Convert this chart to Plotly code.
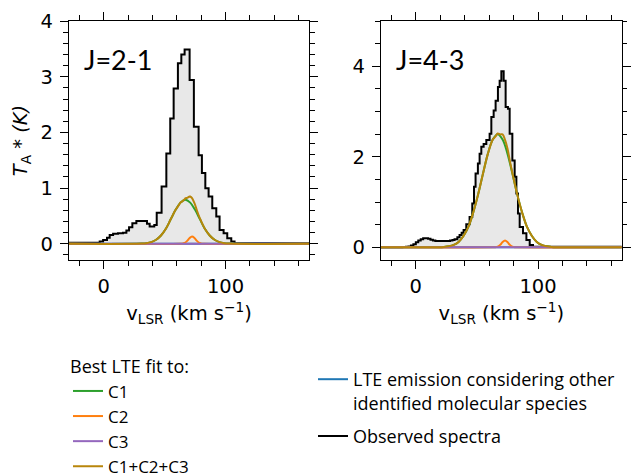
import numpy as np
import plotly.graph_objects as go

# ---------------- data ----------------
# Observed spectra: step starts (km/s) and antenna temperature (K)
obs21_v = [-29, -3.3, -0.5, 2.7, 4.9, 7.7, 11.7, 15.8, 18.6, 20.8, 23.5, 26.8, 35.5, 37.7,
           41.5, 43.5, 47.5, 51.4, 54.6, 57.4, 60.9, 63.7, 66.4, 70.5, 74.0, 77.9, 80.6,
           83.4, 86.1, 89.1, 92.4, 95.1, 98.4, 101.4, 104.7, 107.4, 169]
obs21_t = [0.02, 0.04, 0.07, 0.11, 0.16, 0.18, 0.19, 0.20, 0.24, 0.30, 0.37, 0.41, 0.36, 0.31,
           0.34, 0.56, 1.03, 1.62, 2.25, 2.79, 3.24, 3.40, 3.49, 2.94, 2.10, 1.59, 1.27,
           1.00, 0.85, 0.64, 0.49, 0.25, 0.19, 0.10, 0.04, 0.01, 0.01]

obs43_v = [-29, -11, -8, -6, -4, -2, 0, 2, 4, 6, 8, 10, 12, 14, 16, 20, 24, 28, 30,
           31.7, 34, 35.8, 37.5, 39.1, 41.3, 44, 46.2, 47.6, 48.9, 50.8, 52.2, 53.6, 55.5,
           57.7, 60.4, 61.8, 63.7, 65.3, 67.2, 68.6, 70, 71.9, 73.5, 75.4, 76.8, 79, 80.9,
           82.3, 83.6, 85, 87.7, 90.5, 93.2, 95.9, 169]
obs43_t = [0.0, 0.005, 0.01, 0.02, 0.04, 0.07, 0.11, 0.15, 0.18, 0.20, 0.20, 0.19, 0.17, 0.15,
           0.14, 0.14, 0.14, 0.15, 0.16,
           0.18, 0.22, 0.27, 0.32, 0.38, 0.51, 0.67, 0.97, 1.34, 1.63, 1.85, 2.07, 2.22, 2.28,
           2.37, 2.51, 2.88, 3.02, 3.24, 3.54, 3.68, 3.89, 3.68, 3.10, 3.06, 2.51, 1.92, 1.56,
           1.19, 0.75, 0.45, 0.31, 0.16, 0.05, 0.01, 0.0]

# Best LTE fit components, J=2-1
c1_21_v = [-29, 27, 31, 35, 39, 43, 47, 51, 55, 59, 63, 67, 71, 75, 79, 83, 87, 91, 95, 99, 103, 107, 169]
c1_21_t = [0.0, 0.001, 0.004, 0.011, 0.031, 0.073, 0.15, 0.27, 0.44, 0.61, 0.74, 0.79, 0.74,
           0.61, 0.44, 0.27, 0.15, 0.073, 0.031, 0.011, 0.004, 0.001, 0.0]
c2_21_v = [-29, 62.5, 64.5, 66.5, 68.5, 70.5, 72.5, 74.5, 76.5, 78.5, 80.5, 82.5, 169]
c2_21_t = [0.0, 0.0, 0.004, 0.018, 0.053, 0.104, 0.13, 0.104, 0.053, 0.018, 0.004, 0.0, 0.0]
c3_21_v = [-29, 169]
c3_21_t = [0.0, 0.0]

# Best LTE fit components, J=4-3
c1_43_v = [-29, 19, 23, 27, 31, 35, 39, 43, 47, 51, 55, 59, 63, 67, 71, 75, 79, 83, 87, 91, 95,
           99, 103, 107, 111, 115, 169]
c1_43_t = [0.0, 0.003, 0.008, 0.022, 0.054, 0.12, 0.25, 0.45, 0.77, 1.17, 1.63, 2.07, 2.38,
           2.50, 2.38, 2.07, 1.63, 1.17, 0.77, 0.45, 0.25, 0.12, 0.054, 0.022, 0.008, 0.003, 0.0]
c2_43_v = [-29, 63, 65, 67, 69, 71, 73, 75, 77, 79, 81, 83, 169]
c2_43_t = [0.0, 0.0, 0.003, 0.015, 0.054, 0.116, 0.15, 0.116, 0.054, 0.015, 0.003, 0.0, 0.0]
c3_43_v = [-29, 169]
c3_43_t = [0.0, 0.0]

# LTE emission from other identified species (flat at zero)
oth_v = [-29, 169]
oth_t = [0.0, 0.0]

panel_labels = ["J=2-1", "J=4-3"]
x_ticks = [0, 100]
y_ticks = [[0, 1, 2, 3, 4], [0, 2, 4]]

# ---------------- styles ----------------
C_GREEN = "#2ca02c"
C_ORANGE = "#ff7f0e"
C_PURPLE = "#9467bd"
C_GOLD = "#b8860b"
C_BLUE = "#1f77b4"
LEG_FONT = "Open Sans"
LAB_FONT = "Lato"
AX_FONT = "DejaVu Sans"
LEG_SIZE = 18
LEG_ITEM_SIZE = 17
AX_SIZE = 19.5

W, H = 633, 473


def total(*comps):
    grid = np.unique(np.concatenate([np.asarray(v, float) for v, _ in comps]))
    tot = np.zeros_like(grid)
    for v, t in comps:
        tot += np.interp(grid, v, t)
    return grid, tot


fig = go.Figure()

panels = [
    (obs21_v, obs21_t, (c1_21_v, c1_21_t), (c2_21_v, c2_21_t), (c3_21_v, c3_21_t), "x", "y"),
    (obs43_v, obs43_t, (c1_43_v, c1_43_t), (c2_43_v, c2_43_t), (c3_43_v, c3_43_t), "x2", "y2"),
]

for i, (ov, ot, c1, c2, c3, xa, ya) in enumerate(panels):
    first = i == 0
    # grey filled area under the observed spectrum
    fig.add_trace(go.Scatter(x=ov, y=ot, mode="lines", line=dict(width=0, shape="hv", color="rgba(0,0,0,0)"),
                             fill="tozeroy", fillcolor="#e8e8e8", showlegend=False, hoverinfo="skip",
                             xaxis=xa, yaxis=ya))
    fig.add_trace(go.Scatter(x=ov, y=ot, mode="lines", line=dict(color="black", width=2, shape="hv"),
                             name="Observed spectra", legendgroup="obs",
                             legend="legend2", showlegend=first, xaxis=xa, yaxis=ya, legendrank=2))
    fig.add_trace(go.Scatter(x=oth_v, y=oth_t, mode="lines", line=dict(color=C_BLUE, width=2),
                             name="LTE emission considering other<br>identified molecular species",
                             legendgroup="other",
                             legend="legend2", showlegend=first, xaxis=xa, yaxis=ya, legendrank=1))
    fig.add_trace(go.Scatter(x=c1[0], y=c1[1], mode="lines", line=dict(color=C_GREEN, width=2, shape="spline"),
                             name="C1", legend="legend", showlegend=first, xaxis=xa, yaxis=ya, legendrank=1))
    fig.add_trace(go.Scatter(x=c2[0], y=c2[1], mode="lines", line=dict(color=C_ORANGE, width=2, shape="spline"),
                             name="C2", legend="legend", showlegend=first, xaxis=xa, yaxis=ya, legendrank=2))
    fig.add_trace(go.Scatter(x=c3[0], y=c3[1], mode="lines", line=dict(color=C_PURPLE, width=2),
                             name="C3", legend="legend", showlegend=first, xaxis=xa, yaxis=ya, legendrank=3))
    gv, gt = total(c1, c2, c3)
    fig.add_trace(go.Scatter(x=gv, y=gt, mode="lines", line=dict(color=C_GOLD, width=2, shape="spline"),
                             name="C1+C2+C3", legend="legend", showlegend=first, xaxis=xa, yaxis=ya, legendrank=4))

ydom = [1 - 260 / H, 1 - 21 / H]
minor_style = dict(ticks="outside", ticklen=4.5, tickwidth=1.1, tickcolor="black")
common_x = dict(range=[-28.5, 168.5], tickvals=x_ticks, ticks="outside", ticklen=8, tickwidth=1.3,
                tickcolor="black", showline=True, linecolor="black", linewidth=1.3, mirror="ticks",
                showgrid=False, zeroline=False, automargin=False, ticklabelstandoff=0,
                tickfont=dict(family=AX_FONT, size=AX_SIZE, color="black"),
                minor=dict(minor_style, dtick=20, tick0=0),
                title=dict(text="v<sub>LSR</sub> (km s<sup>−1</sup>)",
                           font=dict(family=AX_FONT, size=AX_SIZE, color="black"), standoff=9))
common_y = dict(ticks="outside", ticklen=8, tickwidth=1.3, tickcolor="black", showline=True,
                linecolor="black", linewidth=1.3, mirror="ticks", showgrid=False, zeroline=False,
                automargin=False, ticklabelstandoff=3,
                tickfont=dict(family=AX_FONT, size=AX_SIZE, color="black"), domain=ydom)

fig.update_layout(
    width=W, height=H, margin=dict(l=0, r=0, t=0, b=0, autoexpand=False),
    plot_bgcolor="white", paper_bgcolor="white",
    xaxis=dict(common_x, domain=[69 / W, 309 / W], anchor="y"),
    xaxis2=dict(common_x, domain=[381 / W, 621.7 / W], anchor="y2"),
    yaxis=dict(common_y, range=[-0.29, 4], tickvals=y_ticks[0], anchor="x",
               minor=dict(minor_style, dtick=0.2, tick0=0),
               title=dict(text="<i>T</i><sub>A</sub><i> * (K)</i>",
                          font=dict(family=AX_FONT, size=AX_SIZE, color="black"), standoff=7)),
    yaxis2=dict(common_y, range=[-0.28, 5], tickvals=y_ticks[1], anchor="x2",
                minor=dict(minor_style, dtick=0.5, tick0=0)),
    legend=dict(x=68 / W, y=1 - 350 / H, xanchor="left", yanchor="top", bgcolor="rgba(0,0,0,0)",
                font=dict(family=LEG_FONT, size=LEG_ITEM_SIZE, color="black"),
                title=dict(text="Best LTE fit to:", font=dict(family=LEG_FONT, size=LEG_SIZE, color="black")),
                tracegroupgap=0, itemwidth=30),
    legend2=dict(x=313 / W, y=1 - 361 / H, xanchor="left", yanchor="top", bgcolor="rgba(0,0,0,0)",
                 font=dict(family=LEG_FONT, size=LEG_SIZE, color="black"), valign="top", itemwidth=30,
                 tracegroupgap=7),
    showlegend=True,
)

for i, lab in enumerate(panel_labels):
    xr = "x domain" if i == 0 else "x2 domain"
    yr = "y domain" if i == 0 else "y2 domain"
    fig.add_annotation(text=lab, xref=xr, yref=yr, x=0.055, y=0.84, xanchor="left", yanchor="middle",
                       showarrow=False, font=dict(family=LAB_FONT, size=27, color="black"))

fig.write_html("out.html")
